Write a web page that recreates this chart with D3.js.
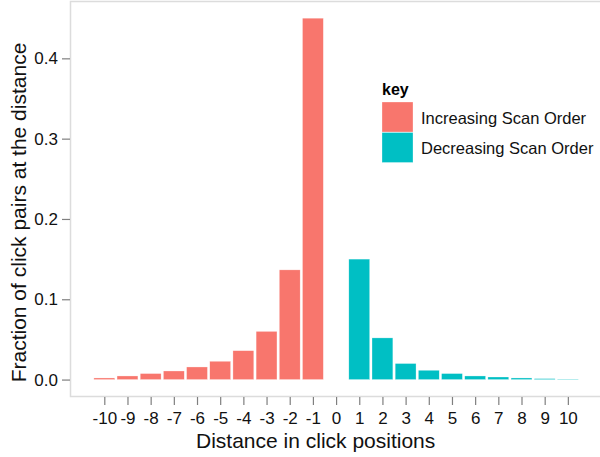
<!DOCTYPE html>
<html>
<head>
<meta charset="utf-8">
<script src="https://cdn.jsdelivr.net/npm/d3@7"></script>
<style>
  body { margin: 0; background: #fff; }
  svg { display: block; font-family: "Liberation Sans", Arial, sans-serif; }
</style>
</head>
<body>
<svg id="chart" width="600" height="457"></svg>
<script>
// distances and fractions
const increasingDist = [-10, -9, -8, -7, -6, -5, -4, -3, -2, -1];
const increasingFrac = [0.002, 0.0045, 0.0075, 0.0107, 0.0157, 0.0228, 0.036, 0.060, 0.1366, 0.450];
const decreasingDist = [1, 2, 3, 4, 5, 6, 7, 8, 9, 10];
const decreasingFrac = [0.150, 0.0519, 0.020, 0.0116, 0.0075, 0.0045, 0.0032, 0.002, 0.0012, 0.0005];
const xTicks = d3.range(-10, 11);
const yTicks = [0.0, 0.1, 0.2, 0.3, 0.4];
const keyLabels = ['Increasing Scan Order', 'Decreasing Scan Order'];
const keyColors = ['#F8766D', '#00BFC4'];

const svg = d3.select('#chart');
const panel = { left: 70, top: 1, right: 601, bottom: 397 };

const xScale = d3.scaleLinear().domain([-11.48, 11.43]).range([panel.left, panel.right]);
const yScale = d3.scaleLinear().domain([-0.0217, 0.4714]).range([panel.bottom, panel.top]);
const barW = (xScale(1) - xScale(0)) * 0.9;

const series = [
  { key: keyLabels[0], color: keyColors[0], rows: increasingDist.map((d, i) => ({ d, v: increasingFrac[i] })) },
  { key: keyLabels[1], color: keyColors[1], rows: decreasingDist.map((d, i) => ({ d, v: decreasingFrac[i] })) },
];

// panel border (left, top, bottom only; right runs off the picture)
svg.append('path')
  .attr('d', `M${panel.right},${panel.top + 0.5}H${panel.left + 0.5}V${panel.bottom - 0.5}H${panel.right}`)
  .attr('fill', 'none')
  .attr('stroke', '#dcdcdc')
  .attr('stroke-width', 1.5);

series.forEach((s) => {
  svg.append('g')
    .selectAll('rect')
    .data(s.rows)
    .join('rect')
    .attr('x', (r) => xScale(r.d) - barW / 2)
    .attr('width', barW)
    .attr('y', (r) => yScale(r.v))
    .attr('height', (r) => yScale(0) - yScale(r.v))
    .attr('fill', s.color)
    .attr('stroke', '#fff')
    .attr('stroke-opacity', 0.6)
    .attr('stroke-width', 0.5);
});

const yAxisG = svg.append('g').attr('transform', `translate(${panel.left},0)`);
yAxisG.call(d3.axisLeft(yScale).tickValues(yTicks).tickFormat(d3.format('.1f')).tickSize(8).tickPadding(4));

const xAxisG = svg.append('g').attr('transform', `translate(0,${panel.bottom})`);
xAxisG.call(d3.axisBottom(xScale).tickValues(xTicks).tickFormat((d) => d).tickSize(8).tickPadding(4));

[yAxisG, xAxisG].forEach((g) => {
  g.select('.domain').remove();
  g.selectAll('.tick line').attr('stroke', '#7f7f7f').attr('stroke-width', 1.2);
  g.selectAll('.tick text').attr('font-size', 17).attr('fill', '#111');
});
xAxisG.selectAll('.tick text').attr('dy', null).attr('y', 27);

svg.append('text')
  .attr('x', 196)
  .attr('y', 448)
  .attr('font-size', 21)
  .attr('fill', '#111')
  .text('Distance in click positions');

svg.append('text')
  .attr('transform', `translate(26,212.5) rotate(-90)`)
  .attr('text-anchor', 'middle')
  .attr('font-size', 21)
  .attr('fill', '#111')
  .text('Fraction of click pairs at the distance');

// legend
const legend = svg.append('g').attr('transform', 'translate(382,0)');
legend.append('text')
  .attr('x', 0)
  .attr('y', 94.5)
  .attr('font-size', 16)
  .attr('font-weight', 'bold')
  .text('key');

const keyRows = legend.selectAll('g.key')
  .data(keyLabels)
  .join('g')
  .attr('class', 'key')
  .attr('transform', (d, i) => `translate(0,${102 + i * 30.5})`);

keyRows.append('rect')
  .attr('width', 31)
  .attr('height', 30)
  .attr('fill', (d, i) => keyColors[i])
  .attr('stroke', '#fff')
  .attr('stroke-opacity', 0.6)
  .attr('stroke-width', 0.5);

keyRows.append('text')
  .attr('x', 39)
  .attr('y', 21.5)
  .attr('font-size', 16.5)
  .attr('fill', '#111')
  .text((d) => d);
</script>
</body>
</html>
